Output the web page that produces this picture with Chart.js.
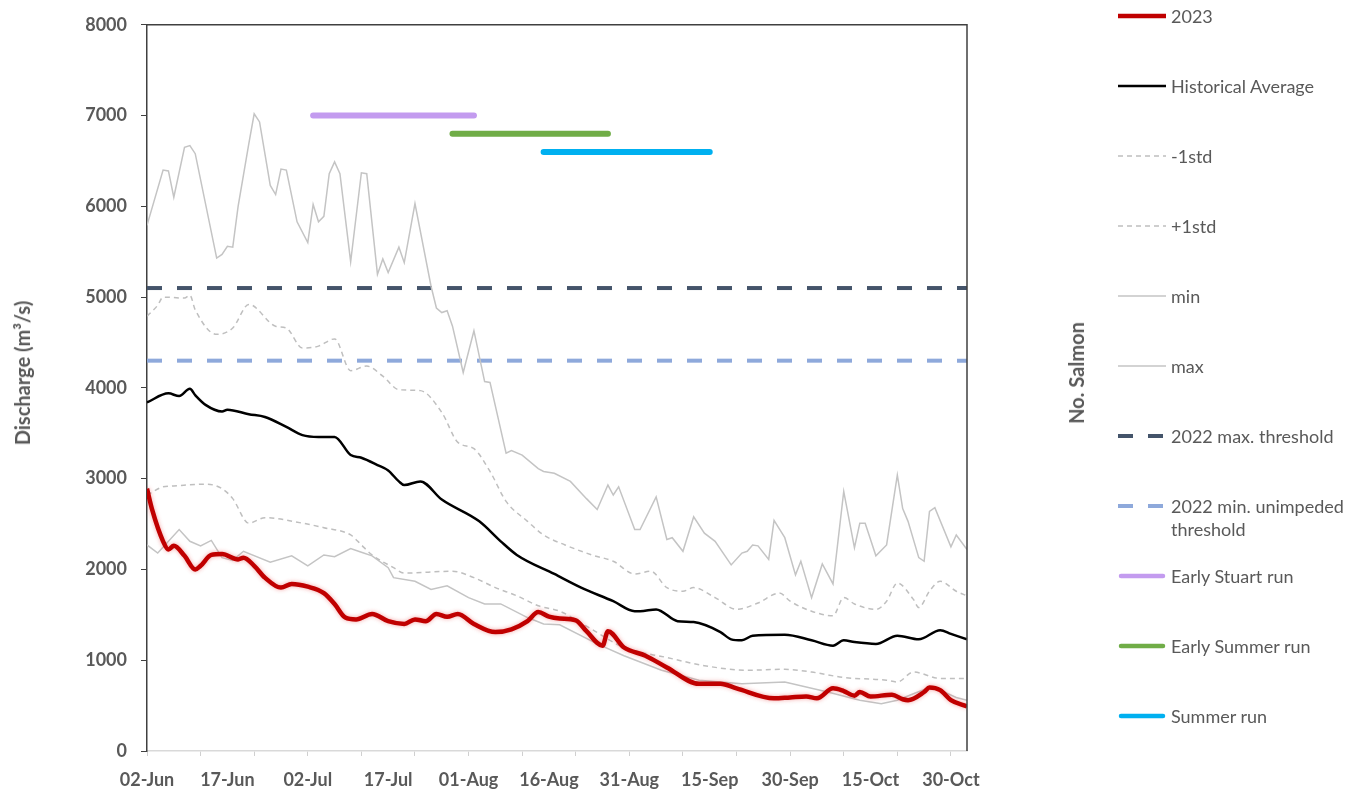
<!DOCTYPE html>
<html>
<head>
<meta charset="utf-8">
<script src="https://cdn.jsdelivr.net/npm/chart.js@4.4.1/dist/chart.umd.min.js"></script>
<style>
  body { margin: 0; background: #fff; }
  #wrap { position: relative; width: 1354px; height: 791px; font-family: Lato, "Open Sans", sans-serif; }
  canvas { position: absolute; left: 0; top: 0; }
  .atitle { position: absolute; transform: translate(-50%, -50%) rotate(-90deg); font-weight: bold; font-size: 20px; color: #595959; white-space: nowrap; }
  .item { position: absolute; left: 1116px; display: flex; align-items: flex-start; }
  .item svg { flex: none; }
  .item span { margin-left: 3px; width: 186px; font-size: 18px; line-height: 23px; color: #595959; }
</style>
</head>
<body>
<div id="wrap">
  <canvas id="flowChart" width="1354" height="791"></canvas>
  <div class="atitle" style="left:22px;top:373px">Discharge (m³/s)</div>
  <div class="atitle" style="left:1076px;top:373px">No. Salmon</div>
  <div id="legend"></div>
</div>
<script>
// x = days since 02-Jun, y = discharge (m3/s)
const xTickLabels = ['02-Jun', '17-Jun', '02-Jul', '17-Jul', '01-Aug', '16-Aug', '31-Aug', '15-Sep', '30-Sep', '15-Oct', '30-Oct'];
const lastDay = 153;

const flow2023 = [[0,2890],[1,2650],[3,2310],[4,2220],[5,2260],[7,2150],[9,2000],[10,2040],[12,2160],[14,2170],[17,2110],[18,2130],[20,2040],[22,1910],[25,1800],[27,1840],[30,1810],[33,1740],[35,1620],[37,1470],[39,1450],[42,1510],[45,1430],[48,1400],[50,1450],[52,1430],[54,1510],[56,1480],[58,1510],[61,1400],[65,1310],[68,1340],[71,1430],[73,1530],[75,1480],[77,1460],[80,1440],[82,1320],[85,1160],[86,1320],[89,1140],[93,1050],[97,920],[103,740],[107,740],[110,690],[117,580],[120,590],[123,600],[125,580],[128,690],[130,660],[132,610],[133,650],[135,600],[139,620],[141,570],[142,560],[145,650],[146,700],[148,670],[150,560],[153,490]];

const histAvg = [[0,3840],[4,3940],[6,3910],[8,3990],[9,3920],[11,3810],[14,3740],[15,3760],[19,3710],[22,3680],[26,3570],[29,3480],[32,3460],[35,3460],[38,3260],[40,3230],[43,3150],[45,3090],[47,2970],[48,2930],[51,2970],[55,2770],[62,2530],[66,2310],[69,2160],[76,1950],[81,1800],[87,1650],[91,1540],[92,1540],[95,1560],[99,1430],[102,1420],[107,1310],[109,1230],[111,1220],[113,1270],[119,1280],[124,1220],[128,1160],[130,1220],[132,1200],[136,1180],[140,1270],[144,1230],[148,1330],[150,1290],[153,1230]];

const minus1std = [[0,2820],[3,2910],[5,2920],[11,2940],[14,2890],[16,2780],[19,2510],[22,2570],[29,2510],[33,2460],[38,2380],[40,2270],[42,2160],[46,2020],[48,1960],[57,1980],[61,1910],[65,1800],[69,1710],[73,1600],[77,1540],[83,1340],[89,1140],[97,1030],[104,940],[112,890],[119,900],[124,870],[130,810],[138,780],[140,760],[143,870],[148,800],[153,800]];

const plus1std = [[0,4790],[2,4910],[3,5000],[7,4990],[8,5020],[9,4860],[13,4590],[16,4660],[19,4920],[24,4680],[26,4660],[29,4440],[32,4460],[35,4540],[38,4190],[41,4240],[44,4130],[47,3980],[51,3970],[55,3730],[58,3400],[61,3330],[64,3080],[67,2750],[71,2530],[74,2380],[78,2270],[83,2160],[87,2090],[91,1950],[94,1980],[97,1800],[100,1760],[102,1800],[106,1690],[110,1560],[114,1630],[118,1740],[120,1650],[124,1540],[128,1490],[130,1690],[132,1620],[136,1560],[138,1650],[140,1850],[143,1670],[144,1580],[146,1760],[148,1870],[151,1760],[153,1710]];

const minFlow = [[0,2270],[2,2180],[6,2440],[8,2310],[10,2260],[12,2320],[14,2130],[16,2100],[18,2200],[23,2080],[27,2150],[30,2040],[33,2160],[35,2140],[38,2230],[40,2190],[42,2150],[45,2020],[46,1910],[50,1870],[53,1780],[56,1820],[60,1690],[63,1620],[66,1620],[71,1470],[74,1400],[77,1390],[84,1180],[89,1050],[96,890],[103,780],[111,740],[119,760],[127,650],[133,560],[137,520],[140,560],[143,630],[146,700],[148,670],[151,590],[153,560]];

const maxFlow = [[0,5790],[3,6400],[4,6390],[5,6100],[7,6650],[8,6670],[9,6580],[13,5430],[14,5470],[15,5560],[16,5550],[17,6000],[19,6690],[20,7020],[21,6930],[23,6230],[24,6130],[25,6410],[26,6400],[28,5830],[30,5600],[31,6020],[32,5830],[33,5890],[34,6360],[35,6490],[36,6360],[38,5390],[40,6370],[41,6360],[43,5250],[44,5420],[45,5270],[47,5550],[48,5380],[50,6030],[53,5120],[54,4880],[55,4830],[56,4850],[57,4680],[59,4170],[61,4630],[63,4070],[64,4060],[67,3280],[68,3310],[70,3260],[73,3110],[74,3080],[76,3060],[79,2970],[82,2780],[84,2660],[86,2930],[87,2820],[88,2910],[91,2440],[92,2440],[95,2800],[97,2330],[98,2350],[100,2200],[102,2580],[104,2400],[106,2310],[109,2050],[111,2180],[112,2200],[113,2270],[114,2260],[116,2110],[117,2540],[119,2350],[121,1940],[122,2090],[124,1690],[126,2060],[128,1840],[130,2860],[132,2240],[133,2510],[134,2510],[136,2150],[138,2270],[140,3040],[141,2670],[142,2530],[144,2130],[145,2090],[146,2640],[147,2680],[150,2250],[151,2380],[153,2220]];

const thresholdNames = ['2022 max. threshold', '2022 min. unimpeded threshold'];
const thresholdValues = [5100, 4300];

const runNames = ['Early Stuart run', 'Early Summer run', 'Summer run'];
const runStart = [31, 57, 74];
const runEnd = [61, 86, 105];
const runLevel = [7000, 6800, 6600];

const xy = pairs => pairs.map(([x, y]) => ({ x, y }));
const flat = v => [{ x: 0, y: v }, { x: lastDay, y: v }];

const datasets = [
  { label: '2023', data: xy(flow2023), borderColor: '#C00000', borderWidth: 4.5, cubicInterpolationMode: 'monotone' },
  { label: 'Historical Average', data: xy(histAvg), borderColor: '#000000', borderWidth: 2.5, cubicInterpolationMode: 'monotone' },
  { label: '-1std', data: xy(minus1std), borderColor: '#BFBFBF', borderWidth: 1.5, borderDash: [5, 4], cubicInterpolationMode: 'monotone' },
  { label: '+1std', data: xy(plus1std), borderColor: '#BFBFBF', borderWidth: 1.5, borderDash: [5, 4], cubicInterpolationMode: 'monotone' },
  { label: 'min', data: xy(minFlow), borderColor: '#C4C4C4', borderWidth: 1.5 },
  { label: 'max', data: xy(maxFlow), borderColor: '#C4C4C4', borderWidth: 1.5 },
  { label: thresholdNames[0], data: flat(thresholdValues[0]), borderColor: '#44546A', borderWidth: 4, borderDash: [15, 15] },
  { label: thresholdNames[1], data: flat(thresholdValues[1]), borderColor: '#8EA9DB', borderWidth: 4, borderDash: [15, 15] }
];
const runColors = ['#C39BEF', '#70AD47', '#00B0F0'];
runNames.forEach((name, i) => {
  datasets.push({
    label: name,
    data: [{ x: runStart[i], y: runLevel[i] }, { x: runEnd[i], y: runLevel[i] }],
    borderColor: runColors[i], borderWidth: 6, borderCapStyle: 'round'
  });
});

// top and right edges of the plot box, plus a soft glow on the 2023 line
const frame = {
  id: 'frame',
  beforeDatasetDraw(chart, args) {
    if (args.index === 0) {
      chart.ctx.save();
      chart.ctx.shadowColor = 'rgba(230,60,60,0.45)';
      chart.ctx.shadowBlur = 4;
    }
  },
  afterDatasetDraw(chart, args) {
    if (args.index === 0) chart.ctx.restore();
  },
  afterDraw(chart) {
    const { ctx, chartArea: a } = chart;
    ctx.save();
    ctx.strokeStyle = '#404040';
    ctx.lineWidth = 1.5;
    ctx.beginPath();
    ctx.moveTo(a.left, a.top);
    ctx.lineTo(a.right, a.top);
    ctx.lineTo(a.right, a.bottom);
    ctx.stroke();
    ctx.restore();
  }
};

const tickFont = { family: 'Lato', size: 18, weight: 'bold' };

const chart = new Chart(document.getElementById('flowChart'), {
  type: 'line',
  data: { datasets },
  options: {
    responsive: false,
    animation: false,
    layout: { padding: { top: 21, right: 387, left: 0, bottom: 0 } },
    elements: { point: { radius: 0 }, line: { fill: false } },
    plugins: { legend: { display: false }, tooltip: { enabled: false } },
    scales: {
      x: {
        type: 'linear', min: 0, max: lastDay,
        afterBuildTicks: s => {
          const t = [];
          for (let d = 0; d <= 150; d += 5) if (d % 10 === 0 || d % 15 === 0) t.push({ value: d });
          s.ticks = t;
        },
        afterFit: s => { s.height = 40; },
        ticks: {
          autoSkip: false, maxRotation: 0, padding: 13, color: '#595959', font: tickFont,
          callback: v => (v % 15 === 0 ? xTickLabels[v / 15] : '')
        },
        grid: {
          drawOnChartArea: false, tickLength: 5,
          tickColor: c => (c.tick && c.tick.value % 10 === 0 ? '#D0D0D0' : 'rgba(0,0,0,0)')
        },
        border: { color: '#D9D9D9', width: 1.5 }
      },
      y: {
        min: 0, max: 8000,
        afterFit: s => { s.width = 147; },
        ticks: { stepSize: 1000, padding: 14, color: '#595959', font: tickFont, callback: v => String(v) },
        grid: { drawOnChartArea: false, tickLength: 6, tickColor: '#404040' },
        border: { color: '#404040', width: 1.5 }
      }
    }
  },
  plugins: [frame]
});

// legend built from the chart's datasets
const legend = document.getElementById('legend');
chart.data.datasets.forEach((ds, i) => {
  const item = document.createElement('div');
  item.className = 'item';
  item.style.top = (16 + i * 70 - 11) + 'px';
  const round = ds.borderCapStyle === 'round';
  const dash = ds.borderDash ? ds.borderDash.join(' ') : 'none';
  item.innerHTML =
    '<svg width="52" height="22"><line x1="' + (round ? 5 : 2) + '" y1="11" x2="' + (round ? 47 : 50) +
    '" y2="11" stroke="' + ds.borderColor + '" stroke-width="' + Math.min(ds.borderWidth, 4.5) +
    '" stroke-dasharray="' + dash + '" stroke-linecap="' + (round ? 'round' : 'butt') + '"/></svg>' +
    '<span>' + ds.label + '</span>';
  legend.appendChild(item);
});
</script>
</body>
</html>
